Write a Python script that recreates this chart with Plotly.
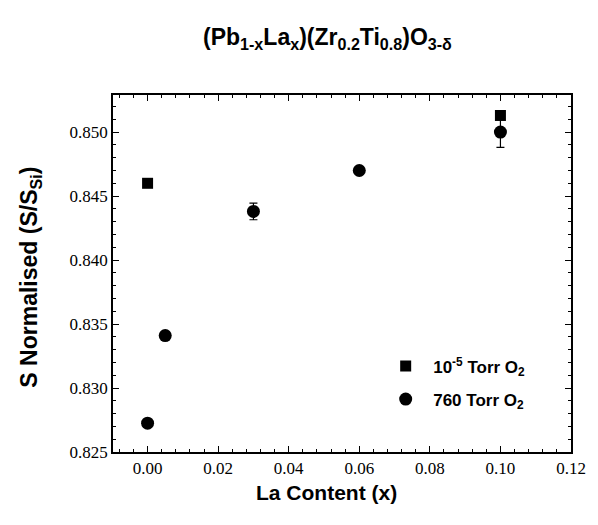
import plotly.graph_objects as go

# Data
x_low = [0.0, 0.10]
y_low = [0.8460, 0.8513]

x_atm = [0.0, 0.005, 0.03, 0.06, 0.10]
y_atm = [0.82725, 0.8341, 0.8438, 0.8470, 0.8500]
err_atm = [0.0, 0.0003, 0.00065, 0.0002, 0.0012]

x_ticks = [0.00, 0.02, 0.04, 0.06, 0.08, 0.10, 0.12]
x_ticklabels = ["0.00", "0.02", "0.04", "0.06", "0.08", "0.10", "0.12"]
y_ticks = [0.825, 0.830, 0.835, 0.840, 0.845, 0.850]
y_ticklabels = ["0.825", "0.830", "0.835", "0.840", "0.845", "0.850"]

SERIF = "Liberation Serif"
SANS = "Liberation Sans"

fig = go.Figure()
fig.add_trace(go.Scatter(
    x=x_low, y=y_low, mode="markers",
    name="<b>10<sup>-5</sup> Torr O<sub>2</sub></b>",
    legendgroup="a",
    marker=dict(symbol="square", size=11, color="black"),
))
fig.add_trace(go.Scatter(
    x=x_atm, y=y_atm, mode="markers",
    name="<b>760 Torr O<sub>2</sub></b>",
    legendgroup="b",
    marker=dict(symbol="circle", size=13, color="black"),
    error_y=dict(type="data", array=err_atm, color="black", thickness=1.2, width=4),
))

fig.update_layout(
    width=598, height=525,
    margin=dict(l=113, r=21, t=95, b=73),
    paper_bgcolor="white", plot_bgcolor="white",
    font=dict(family=SERIF, size=17, color="black"),
    showlegend=True,
    legend=dict(x=0.579, y=0.29, xanchor="left", yanchor="top",
                bgcolor="rgba(0,0,0,0)", traceorder="grouped",
                font=dict(family=SANS, size=17, color="black"),
                itemsizing="trace", itemwidth=45, tracegroupgap=8),
    annotations=[
        dict(text="<b>(Pb<sub>1-x</sub>La<sub>x</sub>)(Zr<sub>0.2</sub>Ti<sub>0.8</sub>)O<sub>3-δ</sub></b>",
             x=(330 - 113) / (577 - 113), y=1 + (95 - 38) / (452 - 95),
             xref="paper", yref="paper", showarrow=False,
             xanchor="center", yanchor="middle",
             font=dict(family=SANS, size=23, color="black")),
        dict(text="<b>La Content (x)</b>",
             x=(329 - 113) / (577 - 113), y=-0.075, xref="paper", yref="paper", showarrow=False,
             xanchor="center", yanchor="top",
             font=dict(family=SANS, size=21, color="black")),
        dict(text="<b>S Normalised (S/S<sub>Si</sub>)</b>",
             x=-0.18, y=0.49, xref="paper", yref="paper", showarrow=False,
             textangle=-90, xanchor="center", yanchor="middle",
             font=dict(family=SANS, size=23, color="black")),
    ],
)

fig.update_xaxes(
    range=[-0.0098, 0.12], tickmode="array", tickvals=x_ticks, ticktext=x_ticklabels,
    showline=True, linecolor="black", linewidth=1.5, mirror="ticks",
    ticks="inside", ticklen=6, tickwidth=1, tickcolor="black",
    showgrid=False, zeroline=False,
    tickfont=dict(family=SERIF, size=17, color="black"),
    minor=dict(ticks="inside", ticklen=3, dtick=0.004, tickcolor="black"),
)
fig.update_yaxes(
    range=[0.825, 0.8529], tickmode="array", tickvals=y_ticks, ticktext=y_ticklabels,
    showline=True, linecolor="black", linewidth=1.5, mirror="ticks",
    ticks="inside", ticklen=6, tickwidth=1, tickcolor="black",
    showgrid=False, zeroline=False,
    tickfont=dict(family=SERIF, size=17, color="black"),
    minor=dict(ticks="inside", ticklen=3, dtick=0.001, tickcolor="black"),
)

fig.write_html("out.html")
